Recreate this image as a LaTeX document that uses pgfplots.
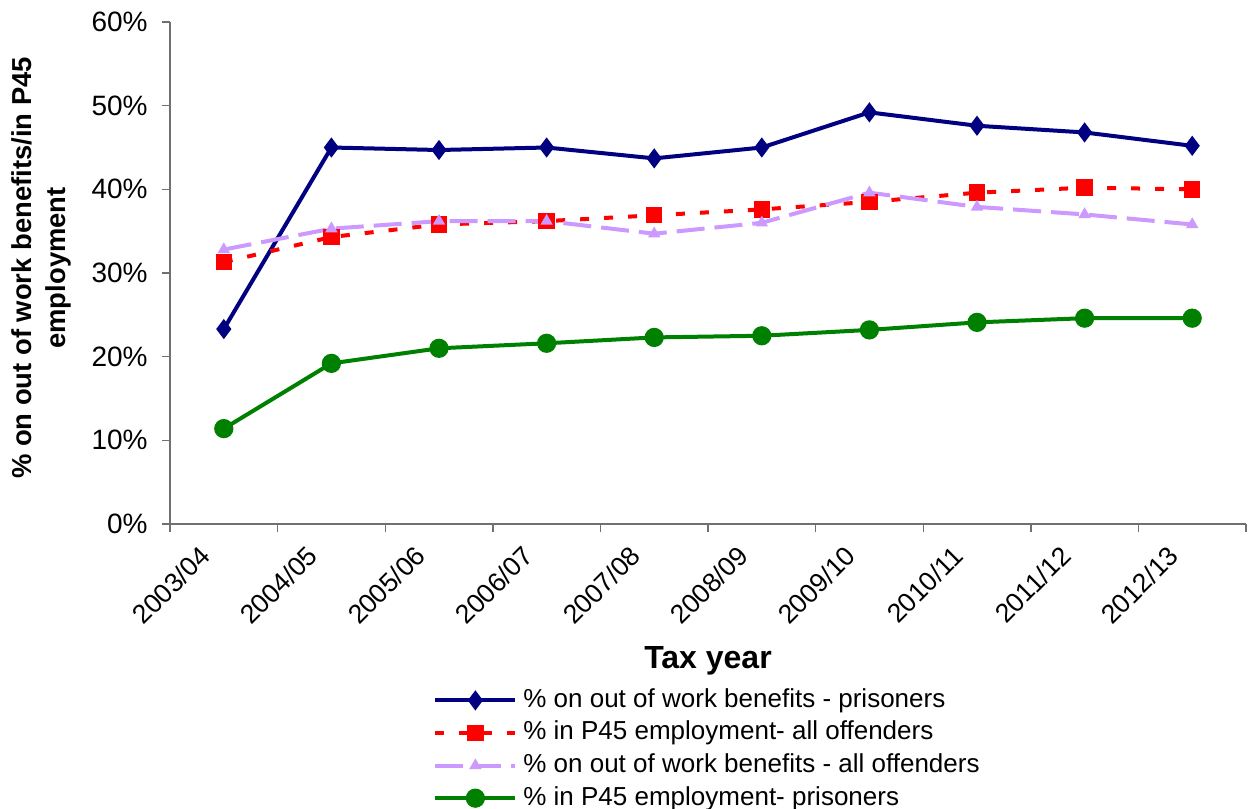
\documentclass[border=0pt]{standalone}
\usepackage{pgfplots}
\pgfplotsset{compat=1.18}
\usepackage{fontspec}
\setmainfont{Liberation Sans}

\definecolor{benprison}{HTML}{000080}
\definecolor{empall}{HTML}{FF0000}
\definecolor{benall}{HTML}{CC99FF}
\definecolor{empprison}{HTML}{008000}
\definecolor{axisgray}{HTML}{707070}

\begin{document}
\begin{tikzpicture}
\begin{axis}[
  at={(85pt,142pt)}, anchor=south west,
  scale only axis,
  width=538pt, height=251pt,
  xmin=0.5, xmax=10.5,
  ymin=0, ymax=60,
  axis x line*=bottom,
  axis y line*=left,
  axis line style={axisgray, line width=0.7pt},
  every tick/.style={axisgray, line width=0.7pt},
  tick align=outside,
  major tick length=4pt,
  minor tick length=4pt,
  xtick={1,...,10},
  xticklabels={2003/04,2004/05,2005/06,2006/07,2007/08,2008/09,2009/10,2010/11,2011/12,2012/13},
  minor xtick={0.5,1.5,...,10.5},
  major x tick style={draw=none},
  ytick={0,10,...,60},
  yticklabels={0\%,10\%,20\%,30\%,40\%,50\%,60\%},
  yticklabel style={font=\fontsize{14pt}{16pt}\selectfont, black, inner sep=2pt, xshift=-5pt},
  xticklabel style={font=\fontsize{13.3pt}{15pt}\selectfont, black,
    xshift=-9.2pt, yshift=-9.5pt, rotate=45, anchor=east, inner sep=0pt},
  xlabel={Tax year},
  xlabel style={at={(axis description cs:0.5,-0.287)}, anchor=base,
    font=\bfseries\fontsize{16pt}{19pt}\selectfont},
  ylabel={\% on out of work benefits/in P45\\employment},
  ylabel style={at={(axis description cs:-0.1194,0.51)}, rotate=0, anchor=center,
    align=center, font=\bfseries\fontsize{13.7pt}{17pt}\selectfont},
  legend style={
    at={(axis description cs:0.2444,-0.3207)}, anchor=north west,
    draw=none, fill=none, inner sep=0pt,
    font=\fontsize{13pt}{15pt}\selectfont,
    row sep=1.3pt, column sep=2pt,
    nodes={inner sep=1pt, text height=10pt, text depth=3pt},
  },
  legend cell align=left,
  legend image code/.code={%
    \draw[mark repeat=2, mark phase=2, #1]
      plot coordinates {(0pt,0pt) (20pt,0pt) (40pt,0pt)};},
]

% out-of-work benefits, prisoners
\addplot[benprison, line width=2pt, mark=diamond*, mark size=3.4pt,
  mark options={solid, fill=benprison}]
  coordinates {(1,23.3) (2,45.0) (3,44.7) (4,45.0) (5,43.7)
               (6,45.0) (7,49.2) (8,47.6) (9,46.8) (10,45.2)};
\addlegendentry{\% on out of work benefits - prisoners}

% P45 employment, all offenders
\addplot[empall, line width=2pt, dash pattern=on 4.5pt off 7.5pt,
  mark=square*, mark size=3.1pt, mark options={solid, fill=empall}]
  coordinates {(1,31.3) (2,34.3) (3,35.8) (4,36.2) (5,36.9)
               (6,37.6) (7,38.5) (8,39.6) (9,40.2) (10,40.0)};
\addlegendentry{\% in P45 employment- all offenders}

% out-of-work benefits, all offenders
\addplot[benall, line width=2pt, dash pattern=on 14pt off 5pt,
  mark=triangle*, mark size=1.6pt, mark options={solid, fill=benall}]
  coordinates {(1,32.8) (2,35.3) (3,36.2) (4,36.2) (5,34.7)
               (6,36.0) (7,39.6) (8,37.9) (9,37.0) (10,35.8)};
\addlegendentry{\% on out of work benefits - all offenders}

% P45 employment, prisoners
\addplot[empprison, line width=2pt, mark=*, mark size=3.8pt,
  mark options={solid, fill=empprison}]
  coordinates {(1,11.4) (2,19.2) (3,21.0) (4,21.6) (5,22.3)
               (6,22.5) (7,23.2) (8,24.1) (9,24.6) (10,24.6)};
\addlegendentry{\% in P45 employment- prisoners}

\end{axis}
\pgfresetboundingbox
\useasboundingbox (0pt,0pt) rectangle (626pt,404pt);
\end{tikzpicture}
\end{document}
